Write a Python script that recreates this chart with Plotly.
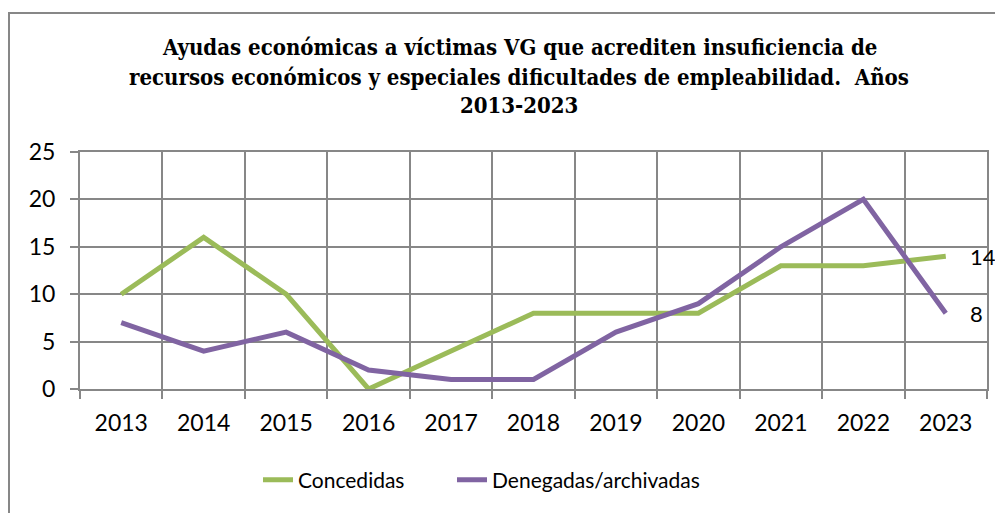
import plotly.graph_objects as go

years = ["2013", "2014", "2015", "2016", "2017", "2018", "2019", "2020", "2021", "2022", "2023"]
concedidas = [10, 16, 10, 0, 4, 8, 8, 8, 13, 13, 14]
denegadas = [7, 4, 6, 2, 1, 1, 6, 9, 15, 20, 8]
title_lines = [
    "Ayudas económicas a víctimas VG que acrediten insuficiencia de",
    "recursos económicos y especiales dificultades de empleabilidad.  Años",
    "2013-2023",
]

GREEN = "#9BBB59"
PURPLE = "#8064A2"
GRID = "#878787"
FONT = "Lato"
OFF = 8  # page body margin

W, H = 1003, 513
# plot area in page pixels: x 80..987, y 152..389
PL, PR, PT, PB = 80, 987, 152, 389
L, T = PL - OFF, PT - OFF
R = W - (PR - OFF)
B = H - (PB - OFF)
pw, ph = PR - PL, PB - PT

def px_x(x):
    return (x - PL) / pw

def px_y(y):
    return (PB - y) / ph

fig = go.Figure()
fig.add_trace(go.Scatter(x=years, y=concedidas, mode="lines", name="Concedidas",
                         line=dict(color=GREEN, width=5), legend="legend"))
fig.add_trace(go.Scatter(x=years, y=denegadas, mode="lines", name="Denegadas/archivadas",
                         line=dict(color=PURPLE, width=5), legend="legend2"))

# data labels for last points
for vals in (concedidas, denegadas):
    fig.add_annotation(x=len(years) - 1, y=vals[-1], xref="x", yref="y", text=str(vals[-1]),
                       showarrow=False, xanchor="left", yanchor="middle", xshift=22,
                       font=dict(family=FONT, size=22, color="black"))

# title lines
for line, yp in zip(title_lines, [47, 77, 105]):
    fig.add_annotation(x=px_x(519), y=px_y(yp), xref="paper", yref="paper", text="<b>" + line + "</b>",
                       showarrow=False, xanchor="center", yanchor="middle",
                       font=dict(family="DejaVu Serif Condensed", size=22, color="black"))

# outer chart border
fig.add_shape(type="rect", xref="paper", yref="paper",
              x0=px_x(OFF + 1), x1=px_x(999), y0=px_y(540), y1=px_y(13),
              line=dict(color=GRID, width=2), fillcolor="rgba(0,0,0,0)", layer="below")

leg_common = dict(orientation="h", xanchor="left", yanchor="middle", y=px_y(480),
                  font=dict(family=FONT, size=21, color="black"), bgcolor="rgba(0,0,0,0)")
fig.update_layout(
    width=W, height=H,
    margin=dict(l=L, r=R, t=T, b=B, autoexpand=False),
    paper_bgcolor="white", plot_bgcolor="white",
    font=dict(family=FONT, size=21, color="black"),
    showlegend=True,
    legend=dict(x=px_x(258), **leg_common),
    legend2=dict(x=px_x(452), **leg_common),
)
fig.update_xaxes(type="category", tickson="boundaries", ticks="outside", ticklen=8, tickcolor=GRID,
                 tickwidth=2, showgrid=True, gridcolor=GRID, gridwidth=2, showline=True,
                 linecolor=GRID, linewidth=2, mirror=True, tickfont=dict(family=FONT, size=23),
                 ticklabelstandoff=12, range=[-0.5, 10.5], fixedrange=True)
fig.update_yaxes(range=[0, 25], dtick=5, ticks="outside", ticklen=8, tickcolor=GRID, tickwidth=2,
                 showgrid=True, gridcolor=GRID, gridwidth=2, showline=True, linecolor=GRID,
                 linewidth=2, mirror=True, zeroline=False, tickfont=dict(family=FONT, size=23),
                 ticklabelstandoff=10, fixedrange=True)

fig.write_html("out.html")
